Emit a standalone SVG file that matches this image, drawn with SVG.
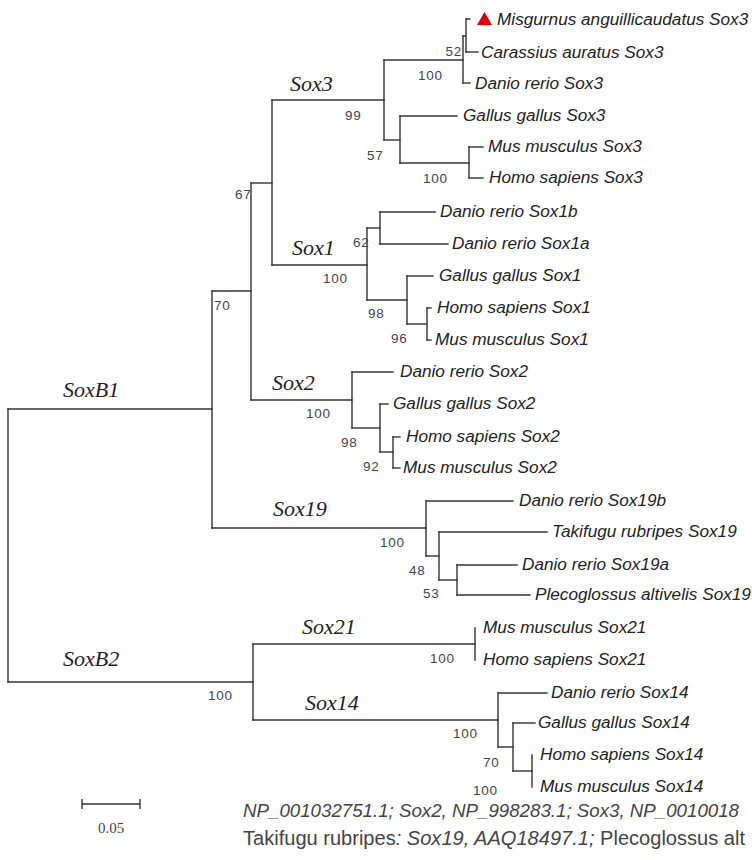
<svg xmlns="http://www.w3.org/2000/svg" width="752" height="860" viewBox="0 0 752 860">
<style>
.b{fill:none;stroke:#333;stroke-width:1.4;stroke-linecap:square}
.leaf{font-family:"Liberation Sans",Arial,sans-serif;font-style:italic;font-size:17.2px;fill:#222}
.bs{font-family:"Liberation Sans",Arial,sans-serif;font-size:13.5px;fill:#444;letter-spacing:0.8px}
.cl{font-family:"Liberation Serif","Times New Roman",serif;font-style:italic;font-size:22px;fill:#222}
.ft{font-family:"Liberation Sans",Arial,sans-serif;font-size:20.5px;fill:#444}
</style>
<rect width="752" height="860" fill="#fff"/>
<g id="connectors" class="b">
<path d="M8,409 V682"/>
<path d="M8,409 H212"/>
<path d="M8,682 H253"/>
<path d="M212,291 V528"/>
<path d="M212,291 H251"/>
<path d="M212,528 H426"/>
<path d="M251,183 V400"/>
<path d="M251,183 H272"/>
<path d="M251,400 H352"/>
<path d="M272,100 V265"/>
<path d="M272,100 H384"/>
<path d="M272,265 H367"/>
<path d="M384,60 V140"/>
<path d="M384,60 H463"/>
<path d="M384,140 H400"/>
<path d="M463,36 V83"/>
<path d="M463,36 H466"/>
<path d="M463,83 H470"/>
<path d="M466,19 V52"/>
<path d="M466,19 H470"/>
<path d="M466,52 H478"/>
<path d="M400,116 V163"/>
<path d="M400,116 H457"/>
<path d="M400,163 H469"/>
<path d="M469,147 V178"/>
<path d="M469,147 H483"/>
<path d="M469,178 H483"/>
<path d="M367,228 V300"/>
<path d="M367,228 H380"/>
<path d="M367,300 H407"/>
<path d="M380,212 V244"/>
<path d="M380,212 H435"/>
<path d="M380,244 H448"/>
<path d="M407,276 V324"/>
<path d="M407,276 H433"/>
<path d="M407,324 H427"/>
<path d="M427,308 V340"/>
<path d="M427,308 H431"/>
<path d="M427,340 H431"/>
<path d="M352,372 V428"/>
<path d="M352,372 H393"/>
<path d="M352,428 H380"/>
<path d="M380,404 V452"/>
<path d="M380,404 H388"/>
<path d="M380,452 H393"/>
<path d="M393,437 V468"/>
<path d="M393,437 H400"/>
<path d="M393,468 H400"/>
<path d="M426,501 V556"/>
<path d="M426,501 H513"/>
<path d="M426,556 H439"/>
<path d="M439,532 V580"/>
<path d="M439,532 H547"/>
<path d="M439,580 H457"/>
<path d="M457,565 V595"/>
<path d="M457,565 H517"/>
<path d="M457,595 H530"/>
<path d="M253,644 V720"/>
<path d="M253,644 H475"/>
<path d="M253,720 H498"/>
<path d="M475,628 V660"/>
<path d="M498,693 V747"/>
<path d="M498,693 H547"/>
<path d="M498,747 H513"/>
<path d="M513,723 V771"/>
<path d="M513,723 H535"/>
<path d="M513,771 H532"/>
<path d="M532,755 V787"/>
</g>
<g id="leaves" class="leaf">
<g id="n1"><polygon points="477,25 484.5,12 492,25" fill="#e00000"/><text x="497" y="25">Misgurnus anguillicaudatus Sox3</text></g>
<g id="n2"><text x="481" y="58">Carassius auratus Sox3</text></g>
<g id="n3"><text x="475" y="89">Danio rerio Sox3</text></g>
<g id="n4"><text x="463" y="121">Gallus gallus Sox3</text></g>
<g id="n5"><text x="488" y="152">Mus musculus Sox3</text></g>
<g id="n6"><text x="489" y="183">Homo sapiens Sox3</text></g>
<g id="n7"><text x="440" y="217">Danio rerio Sox1b</text></g>
<g id="n8"><text x="452" y="249">Danio rerio Sox1a</text></g>
<g id="n9"><text x="439" y="281">Gallus gallus Sox1</text></g>
<g id="n10"><text x="437" y="313">Homo sapiens Sox1</text></g>
<g id="n11"><text x="435" y="345">Mus musculus Sox1</text></g>
<g id="n12"><text x="400" y="377">Danio rerio Sox2</text></g>
<g id="n13"><text x="393" y="409">Gallus gallus Sox2</text></g>
<g id="n14"><text x="406" y="442">Homo sapiens Sox2</text></g>
<g id="n15"><text x="403" y="473">Mus musculus Sox2</text></g>
<g id="n16"><text x="519" y="506">Danio rerio Sox19b</text></g>
<g id="n17"><text x="552" y="537">Takifugu rubripes Sox19</text></g>
<g id="n18"><text x="522" y="570">Danio rerio Sox19a</text></g>
<g id="n19"><text x="535" y="600">Plecoglossus altivelis Sox19</text></g>
<g id="n20"><text x="483" y="633">Mus musculus Sox21</text></g>
<g id="n21"><text x="483" y="665">Homo sapiens Sox21</text></g>
<g id="n22"><text x="551" y="698">Danio rerio Sox14</text></g>
<g id="n23"><text x="538" y="728">Gallus gallus Sox14</text></g>
<g id="n24"><text x="540" y="760">Homo sapiens Sox14</text></g>
<g id="n25"><text x="540" y="792">Mus musculus Sox14</text></g>
</g>
<g id="bootstrap" class="bs">
<text x="462" y="56" text-anchor="end">52</text>
<text x="418" y="80">100</text>
<text x="345" y="120">99</text>
<text x="367" y="160">57</text>
<text x="423" y="183">100</text>
<text x="235" y="199">67</text>
<text x="353" y="247">62</text>
<text x="323" y="283">100</text>
<text x="214" y="310">70</text>
<text x="368" y="318">98</text>
<text x="391" y="343">96</text>
<text x="306" y="418">100</text>
<text x="341" y="447">98</text>
<text x="363" y="471">92</text>
<text x="380" y="547">100</text>
<text x="409" y="575">48</text>
<text x="423" y="598">53</text>
<text x="208" y="700">100</text>
<text x="430" y="663">100</text>
<text x="453" y="738">100</text>
<text x="483" y="767">70</text>
<text x="473" y="795">100</text>
</g>
<g id="clades" class="cl">
<text x="290" y="91">Sox3</text>
<text x="292" y="255">Sox1</text>
<text x="272" y="390">Sox2</text>
<text x="63" y="397">SoxB1</text>
<text x="273" y="516">Sox19</text>
<text x="302" y="634">Sox21</text>
<text x="63" y="666">SoxB2</text>
<text x="305" y="710">Sox14</text>
</g>
<g id="scalebar">
<path d="M82,804 H140 M82,799 V809 M140,799 V809" fill="none" stroke="#333" stroke-width="1.4"/>
<text x="111" y="833" text-anchor="middle" font-family="Liberation Serif,serif" font-size="15" fill="#444">0.05</text>
</g>
<g id="footer" class="ft">
<text x="243" y="817" font-style="italic" font-size="18.8" textLength="496" lengthAdjust="spacingAndGlyphs">NP_001032751.1; Sox2, NP_998283.1; Sox3, NP_0010018</text>
<text x="243" y="845" textLength="502" lengthAdjust="spacingAndGlyphs">Takifugu rubripes<tspan font-style="italic">: Sox19, AAQ18497.1;</tspan> Plecoglossus alt</text>
</g>
</svg>
